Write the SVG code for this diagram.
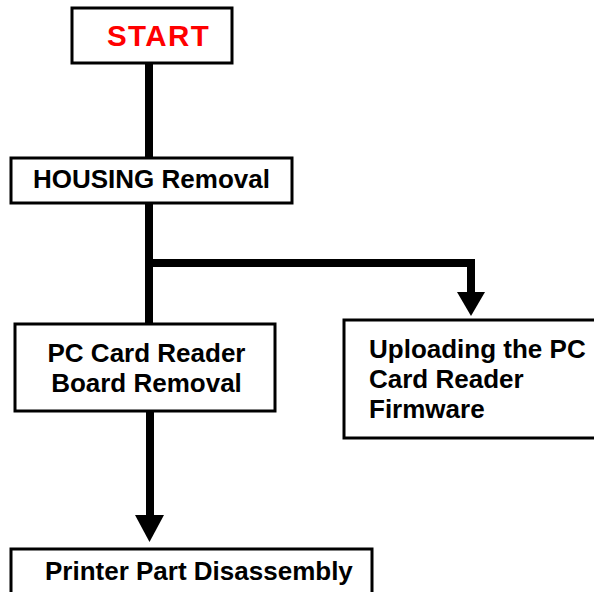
<svg xmlns="http://www.w3.org/2000/svg" width="594" height="592" viewBox="0 0 594 592">
  <style>
    .box { fill: #fff; stroke: #000; stroke-width: 3; }
    .lbl { font-family: "Liberation Sans", Arial, sans-serif; font-weight: bold; font-size: 26px; fill: #000; }
    .start { font-size: 29.5px; fill: #ff0000; letter-spacing: 1.4px; }
    .wire { fill: none; stroke: #000; stroke-width: 8; }
    .head { fill: #000; }
  </style>

  <!-- connectors -->
  <g id="connectors">
    <line class="wire" x1="149" y1="63" x2="149" y2="158"/>
    <line class="wire" x1="149" y1="203" x2="149" y2="324"/>
    <polyline class="wire" points="149,263 471,263 471,294"/>
    <polygon class="head" points="457,292 485,292 471,316"/>
    <line class="wire" x1="150" y1="411" x2="150" y2="517"/>
    <polygon class="head" points="135,515 164,515 149.5,542"/>
  </g>

  <g id="start">
    <rect class="box" x="72" y="8" width="160" height="55"/>
    <text class="lbl start" x="107" y="46">START</text>
  </g>

  <g id="housing">
    <rect class="box" x="11" y="158" width="281" height="45"/>
    <text class="lbl" x="33" y="188">HOUSING Removal</text>
  </g>

  <g id="pc-card-board">
    <rect class="box" x="15" y="324" width="260" height="87"/>
    <text class="lbl" x="146.5" y="362" text-anchor="middle">PC Card Reader</text>
    <text class="lbl" x="146.5" y="392" text-anchor="middle">Board Removal</text>
  </g>

  <g id="firmware">
    <rect class="box" x="344" y="320" width="260" height="118"/>
    <text class="lbl" x="369" y="358">Uploading the PC</text>
    <text class="lbl" x="369" y="388">Card Reader</text>
    <text class="lbl" x="369" y="418">Firmware</text>
  </g>

  <g id="printer">
    <rect class="box" x="11" y="549" width="361" height="60"/>
    <text class="lbl" x="45" y="580">Printer Part Disassembly</text>
  </g>
</svg>
